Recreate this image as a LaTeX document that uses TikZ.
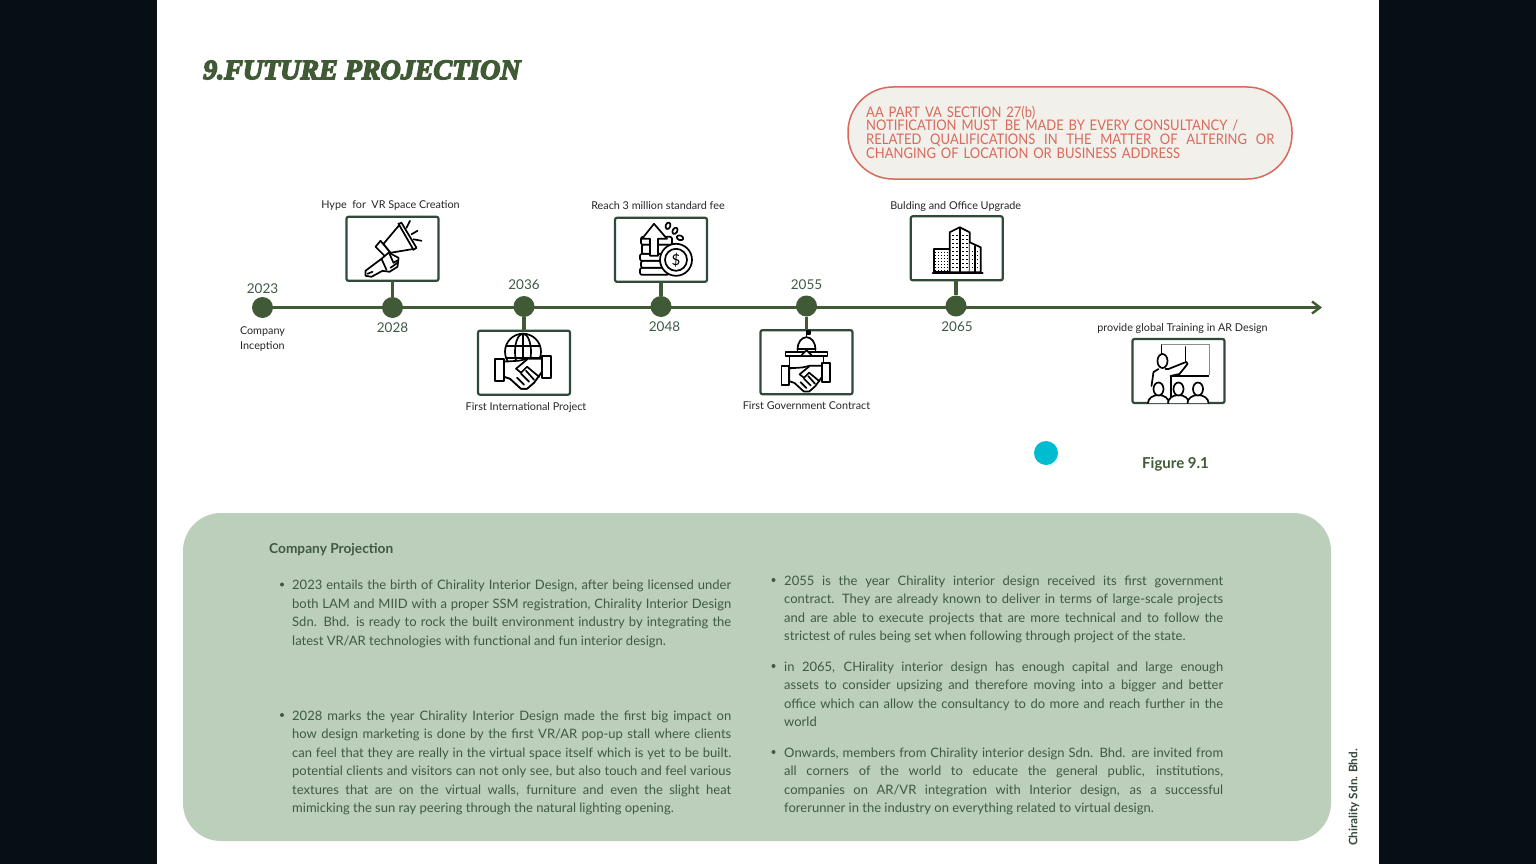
\documentclass[tikz,border=0pt]{standalone}
\usepackage{fontspec}
\setmainfont{Lato}
\newfontfamily\titlefont[BoldItalicFeatures={FakeBold=5}]{Liberation Serif}
\newfontfamily\noticefont[FakeStretch=0.89]{Lato}
\usetikzlibrary{arrows.meta,positioning,calc}
\definecolor{pagedark}{HTML}{070F14}
\definecolor{leaf}{HTML}{3F5A34}
\definecolor{boxline}{HTML}{2F4A38}
\definecolor{panelgreen}{HTML}{BCCFBB}
\definecolor{paneltext}{HTML}{3F5A44}
\definecolor{salmon}{HTML}{D9695B}
\definecolor{pillfill}{HTML}{F1F0EA}
\definecolor{dotcyan}{HTML}{00BCD0}
\tikzset{
  yeardot/.style={circle,fill=leaf,minimum size=21pt,inner sep=0pt},
  iconbox/.style={draw=boxline,line width=2.2pt,rounded corners=2pt,minimum width=92pt,minimum height=64pt,inner sep=0pt,outer sep=0pt},
  stemline/.style={draw=leaf,line width=3.2pt},
  yearlabel/.style={text=paneltext,font=\fontsize{13.5}{15}\selectfont,inner sep=0pt},
  eventlabel/.style={text=black!85,font=\fontsize{10.8}{15}\selectfont,inner sep=0pt,align=center},
  bodytext/.style={text=paneltext,font=\fontsize{13}{18.5}\selectfont,text width=439pt,align=justify,inner sep=0pt,anchor=north west},
  bulletdot/.style={circle,fill=paneltext,minimum size=4pt,inner sep=0pt},
  iconline/.style={line width=1.7pt,line join=round,line cap=round,draw=black,fill=white},
}
% clasped hands, drawn round the middle of the icon
\newcommand{\handsicon}{
  \draw[iconline] (-29,-4) rectangle (-20,18);
  \draw[iconline] (18,-7) rectangle (27,15);
  \draw[iconline] (-20,-1) -- (-5,-2) -- (4,-4) -- (18,-4) -- (18,9) -- (10,20)
    -- (3,26) -- (-3,26) -- (-14,16) -- (-20,14) -- cycle;
  \draw[iconline] (4,-4) -- (-8,6) -- (-3,10) -- (3,4) -- (15,14);
  \draw[iconline] (-7,15) -- (0,22);
  \draw[iconline] (-3,11) -- (5,19);
  \draw[iconline] (2,8) -- (10,17);
}
\begin{document}
\begin{tikzpicture}[x=1pt,y=-1pt]
  \useasboundingbox (0,0) rectangle (1536,864);
  \fill[pagedark] (0,0) rectangle (1536,864);
  \fill[white] (157,0) rectangle (1379,864);

  \node[anchor=west,inner sep=0pt,text=leaf,font=\fontsize{28}{30}\selectfont\titlefont\bfseries\itshape] (title) at (203,70) {9.FUTURE PROJECTION};

  % notice
  \node[draw=salmon,fill=pillfill,line width=1.5pt,rounded corners=45pt,minimum width=444pt,minimum height=92pt,inner sep=0pt] (notice) at (1070,133) {};
  \node[anchor=north west,inner sep=0pt,text=salmon,text width=409pt,align=left,font=\fontsize{14.6}{13.7}\selectfont\noticefont] (noticetext) at (866,105.5)
    {AA PART VA SECTION 27(b)\\NOTIFICATION MUST\ \kern2pt BE MADE BY EVERY CONSULTANCY /\\\makebox[408pt][s]{\spaceskip=4pt plus 1fil\relax RELATED QUALIFICATIONS IN THE MATTER OF ALTERING OR}\\CHANGING OF LOCATION OR BUSINESS ADDRESS};

  % timeline
  \coordinate (lineend) at (1322,307.5);
  \node[yeardot] (d2023) at (262.5,307.5) {};
  \node[yeardot] (d2028) at (392.5,307.5) {};
  \node[yeardot] (d2036) at (524,306.5) {};
  \node[yeardot] (d2048) at (661,306.5) {};
  \node[yeardot] (d2055) at (806.5,306) {};
  \node[yeardot] (d2065) at (956,306) {};
  \draw[leaf,line width=3.2pt,-{Straight Barb[length=8pt,width=12pt,line width=2.4pt]}] (d2023.center) -- (lineend);

  \node[yearlabel,above=3pt of d2023] (y2023) {2023};
  \node[yearlabel,below=4.5pt of d2028] (y2028) {2028};
  \node[yearlabel,above=6pt of d2036] (y2036) {2036};
  \node[yearlabel,below=4.5pt of d2048,xshift=3.5pt] (y2048) {2048};
  \node[yearlabel,above=5.5pt of d2055] (y2055) {2055};
  \node[yearlabel,below=5pt of d2065,xshift=1pt] (y2065) {2065};

  \node[iconbox,above=16pt of d2028] (b2028) {};
  \node[iconbox,below=13.5pt of d2036] (b2036) {};
  \node[iconbox,above=14pt of d2048] (b2048) {};
  \node[iconbox,below=13.5pt of d2055] (b2055) {};
  \node[iconbox,above=15pt of d2065,xshift=.7pt] (b2065) {};
  \node[iconbox] (btrain) at (1178.5,371) {};
  \draw[stemline] (b2028) -- (d2028);
  \draw[stemline] (b2036) -- (d2036);
  \draw[stemline] (b2048) -- (d2048);
  \draw[stemline] (b2055) -- (d2055);
  \draw[stemline] (b2065.south -| d2065) -- (d2065);

  \node[eventlabel,below=8pt of d2023] (linception) {Company\\Inception};
  \node[eventlabel,above=6pt of b2028,xshift=-2pt] (lhype) {Hype\ \ for\ \ VR Space Creation};
  \node[eventlabel,below=7.5pt of b2036,xshift=2pt] (lfirst) {First International Project};
  \node[eventlabel,above=8pt of b2048,xshift=-3pt] (lreach) {Reach 3 million standard fee};
  \node[eventlabel,below=7.5pt of b2055] (lgov) {First Government Contract};
  \node[eventlabel,above=4.5pt of b2065,xshift=-1pt] (loffice) {Bulding and Office Upgrade};
  \node[eventlabel,above=5pt of btrain,xshift=4pt] (ltrain) {provide global Training in AR Design};

  % megaphone
  \begin{scope}[shift={(b2028.center)}]
    \draw[iconline] (-17,-2) -- (-12,-8) -- (-1,5) -- (-6,9) -- cycle;
    \draw[iconline] (7,-24) -- (-9,-5) -- (-2,4) -- (22,0) -- cycle;
    \draw[iconline] (6,-25) -- (9,-26) -- (24,-1) -- (21,1) -- cycle;
    \draw[iconline] (-27,27) -- (-27,22) -- (-11,10) -- (-4,4) -- (6,9) -- (5,18) -- (-3,23) -- (-10,22) -- (-21,28) -- cycle;
    \draw[iconline] (-11,10) -- (-6,21);
    \draw[iconline] (-3,5) -- (1,14) -- (6,11);
    \draw[iconline] (-2,19) -- (5,14);
    \draw[iconline] (-20,23) -- (-25,25);
    \draw[iconline] (17.5,-28) -- (14,-21);
    \draw[iconline] (25,-18) -- (19,-14.5);
    \draw[iconline] (29,-8) -- (21,-9.5);
  \end{scope}

  % globe and hands
  \begin{scope}[shift={(b2036.center)}]
    \handsicon
    \begin{scope}[shift={(-1,-11)}]
      \draw[iconline] (0,0) circle[radius=18];
      \draw[iconline,fill=none] (0,0) ellipse[x radius=8,y radius=18];
      \draw[iconline] (0,-18) -- (0,18);
      \draw[iconline] (-17,-6) -- (17,-6);
      \draw[iconline] (-17,6) -- (17,6);
    \end{scope}
    \draw[iconline] (-20,-1) -- (-5,-2) -- (4,-4) -- (18,-4) -- (18,9) -- (10,20)
      -- (3,26) -- (-3,26) -- (-14,16) -- (-20,14) -- cycle;
    \draw[iconline] (4,-4) -- (-8,6) -- (-3,10) -- (3,4) -- (15,14);
    \draw[iconline] (-7,15) -- (0,22);
    \draw[iconline] (-3,11) -- (5,19);
    \draw[iconline] (2,8) -- (10,17);
  \end{scope}

  % coins and arrow
  \begin{scope}[shift={(b2048.center)}]
    \draw[iconline,rounded corners=2pt] (-21,18) rectangle (8,25);
    \draw[iconline,rounded corners=2pt] (-20,11) rectangle (8,18);
    \draw[iconline,rounded corners=2pt] (-21,4) rectangle (8,11);
    \draw[iconline,rounded corners=2pt] (-20,-13) rectangle (11,-5);
    \draw[iconline,rounded corners=1pt] (-19,-5) rectangle (8,4);
    \draw[iconline,line join=round] (-7,-26) -- (6,-11) -- (-3,-11) -- (-3,6) -- (-11,6) -- (-11,-11) -- (-19,-11) -- cycle;
    \draw[iconline] (15,10) circle[radius=16];
    \draw[iconline] (15,10) circle[radius=11];
    \node[inner sep=0pt,font=\fontsize{15}{15}\selectfont] (dollar) at (15,10) {\$};
    \draw[iconline,rotate around={-20:(7,-24)}] (7,-24) ellipse[x radius=2.3,y radius=3.4];
    \draw[iconline,rotate around={-30:(14,-19)}] (14,-19) ellipse[x radius=2.3,y radius=3.4];
    \draw[iconline,rotate around={70:(19,-12)}] (19,-12) ellipse[x radius=2.3,y radius=3.4];
  \end{scope}

  % parliament and hands
  \begin{scope}[shift={(b2055.center)}]
    \draw[iconline] (0,-25) -- (0,-31);
    \draw[iconline,fill=black] (0,-31) rectangle (3.5,-28);
    \draw[iconline] (-9,-13) arc[start angle=180,end angle=360,x radius=9,y radius=12] -- cycle;
    \draw[iconline] (-9,-13) rectangle (9,-10);
    \draw[iconline] (-21,-10) rectangle (21,-6);
    \draw[iconline] (-17,-6) rectangle (17,6);
    \draw[iconline] (-5,-7) -- (0,-12) -- (5,-7);
    \begin{scope}[yshift=-7pt,scale=0.86]
      \handsicon
    \end{scope}
  \end{scope}

  % tower blocks
  \begin{scope}[shift={(b2065.center)}]
    \draw[iconline] (-23,1) rectangle (-7,24);
    \draw[iconline] (-7,-16) -- (3,-21) -- (13,-16) -- (13,24) -- (-7,24) -- cycle;
    \draw[iconline] (3,-21) -- (3,24);
    \draw[iconline] (13,-6) -- (24,-1) -- (24,24) -- (13,24);
    \draw[iconline] (18,-3) -- (18,24);
    \draw[line width=1.8pt,line cap=round] (-24,25) -- (26,25);
    \foreach \col in {-21,-18,-15,-12,-9}
      \foreach \row in {4,7,10,13,16,19,22}
        \fill (\col-.7,\row-.7) rectangle (\col+.7,\row+.7);
    \foreach \col in {-4,0,6,10}
      \foreach \row in {-13,-9,-5,-1,3,7,11,15,19}
        \fill (\col-.8,\row-.8) rectangle (\col+.8,\row+.8);
    \foreach \col in {16,21}
      \foreach \row in {3,7,11,15,19}
        \fill (\col-.7,\row-.7) rectangle (\col+.7,\row+.7);
  \end{scope}

  % classroom
  \begin{scope}[shift={(btrain.center)}]
    \draw[black!45,line width=.5pt] (-17,-27) -- (31,-27) -- (31,4);
    \draw[iconline] (-17,-26) -- (-17,-17);
    \draw[iconline] (7,-24) -- (7,-10);
    \draw[iconline] (-16,-10) ellipse[x radius=5,y radius=7];
    \draw[iconline,fill=none] (-20,-2) -- (-25,1) -- (-27,15);
    \draw[iconline,fill=none] (-13,-2) -- (-10,-2) -- (5,-8) -- (8,-9) -- (9,-7) -- (1,3) -- (-8,5);
    \draw[line width=2pt] (-8,5) -- (30,5);
    \draw[line width=2pt] (-8,5) -- (-8,32);
    \foreach \seatx in {-20,0,19.5} {
      \draw[iconline] (\seatx-10.5,32) arc[start angle=180,end angle=360,x radius=10.5,y radius=8];
      \draw[iconline] (\seatx,18) ellipse[x radius=5,y radius=6.5];
    }
  \end{scope}

  \node[circle,fill=dotcyan,minimum size=24pt,inner sep=0pt] (cyandot) at (1046,453) {};
  \node[anchor=west,inner sep=0pt,text=leaf,font=\fontsize{15}{16}\selectfont\bfseries] (figlabel) at (1142,464) {Figure 9.1};

  % company projection panel
  \node[fill=panelgreen,rounded corners=38pt,minimum width=1148pt,minimum height=328pt,inner sep=0pt] (panel) at (757,677) {};
  \node[anchor=west,inner sep=0pt,text=paneltext,font=\fontsize{13.7}{15}\selectfont\bfseries] (heading) at (269,549.5) {Company Projection};

  \node[bulletdot] (b1) at (282,584.5) {};
  \node[bodytext] (p1) at (292,580) {2023 entails the birth of Chirality Interior Design, after being licensed under\linebreak
    both LAM and MIID with a proper SSM registration, Chirality Interior Design\linebreak
    Sdn. Bhd. is ready to rock the built environment industry by integrating the\linebreak
    latest VR/AR technologies with functional and fun interior design.};
  \node[bulletdot] (b2) at (282,715) {};
  \node[bodytext] (p2) at (292,710.5) {2028 marks the year Chirality Interior Design made the first big impact on\linebreak
    how design marketing is done by the first VR/AR pop-up stall where clients\linebreak
    can feel that they are really in the virtual space itself which is yet to be built.\linebreak
    potential clients and visitors can not only see, but also touch and feel various\linebreak
    textures that are on the virtual walls, furniture and even the slight heat\linebreak
    mimicking the sun ray peering through the natural lighting opening.};
  \node[bulletdot] (b3) at (773.5,580) {};
  \node[bodytext] (p3) at (784,575.5) {2055 is the year Chirality interior design received its first government\linebreak
    contract. They are already known to deliver in terms of large-scale projects\linebreak
    and are able to execute projects that are more technical and to follow the\linebreak
    strictest of rules being set when following through project of the state.};
  \node[bulletdot] (b4) at (773.5,666) {};
  \node[bodytext] (p4) at (784,661.5) {in 2065, CHirality interior design has enough capital and large enough\linebreak
    assets to consider upsizing and therefore moving into a bigger and better\linebreak
    office which can allow the consultancy to do more and reach further in the\linebreak
    world};
  \node[bulletdot] (b5) at (773.5,752) {};
  \node[bodytext] (p5) at (784,747.5) {Onwards, members from Chirality interior design Sdn. Bhd. are invited from\linebreak
    all corners of the world to educate the general public, institutions,\linebreak
    companies on AR/VR integration with Interior design, as a successful\linebreak
    forerunner in the industry on everything related to virtual design.};

  \node[rotate=90,anchor=center,inner sep=0pt,text=paneltext!80!black,font=\fontsize{11.7}{13}\selectfont\bfseries] (sidelabel) at (1354,797.5) {Chirality Sdn. Bhd.};
\end{tikzpicture}
\end{document}
